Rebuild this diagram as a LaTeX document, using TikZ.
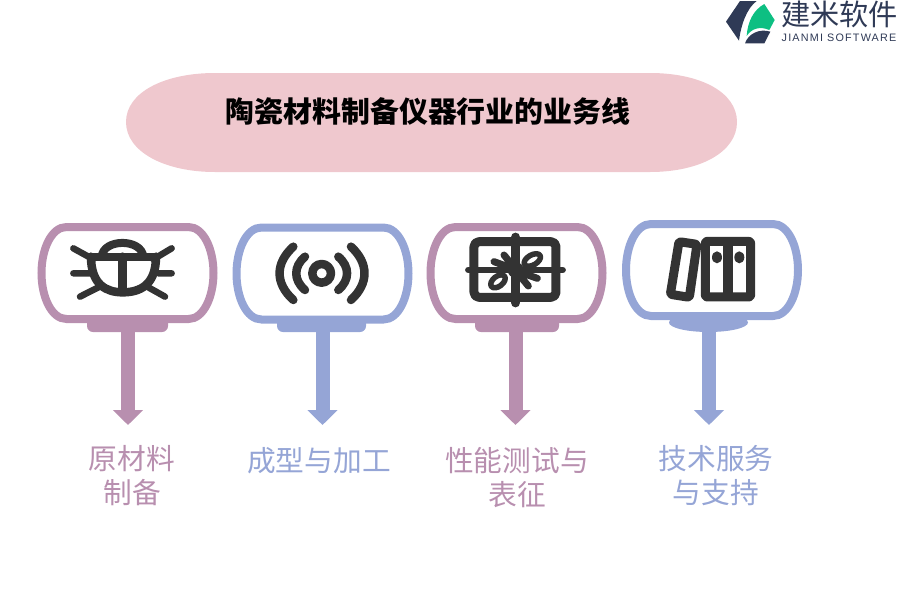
\documentclass[tikz,border=0pt]{standalone}
\usepackage{fontspec}
\usetikzlibrary{arrows.meta}
\setmainfont{Liberation Sans}
\newfontfamily\cjk{Noto Sans CJK SC}
\newfontfamily\logolatin[LetterSpace=11]{Liberation Sans}
\definecolor{mauve}{HTML}{B88FAF}
\definecolor{periw}{HTML}{95A5D6}
\definecolor{pinkbg}{HTML}{EFC8CE}
\definecolor{ink}{HTML}{333333}
\definecolor{navy}{HTML}{2F3A56}
\definecolor{mint}{HTML}{0DBF82}
\tikzset{
  lbl/.style={inner sep=0pt,align=center,font=\cjk\fontsize{28.7}{34}\selectfont},
  flowarrow/.style={line width=14pt,-{Triangle[length=15pt,width=29.5pt]}},
  icon/.style={draw=ink,line cap=round,line join=round},
  zoomed/.style={x=0.3333pt,y=-0.3333pt},
}
\newcommand{\capsule}[3]{%
  \path[shift={(#1,#2)},draw=#3,line width=8pt,fill=white]
    (25,0) -- (147,0) .. controls (162,0) and (172,22) .. (172,46)
    .. controls (172,70) and (162,92) .. (147,92) -- (25,92)
    .. controls (10,92) and (0,70) .. (0,46)
    .. controls (0,22) and (10,0) .. (25,0) -- cycle;}
\begin{document}
\begin{tikzpicture}[x=1pt,y=-1pt]
\useasboundingbox (0,0) rectangle (900,600);

% title
\path[fill=pinkbg] (215,73) -- (650,73) .. controls (700,73) and (737,92) .. (737,122)
  .. controls (737,152) and (700,172) .. (650,172) -- (215,172)
  .. controls (165,172) and (126,152) .. (126,122) .. controls (126,92) and (165,73) .. (215,73) -- cycle;
\node[inner sep=0pt,font=\cjk\bfseries\fontsize{28.9}{34}\selectfont] (title) at (428,111) {陶瓷材料制备仪器行业的业务线};

% tabs
\path[fill=mauve,rounded corners=6pt] (87,315) -- (168,315) -- (168,332) -- (87,332) -- cycle;
\path[fill=periw,rounded corners=6pt] (277,315) -- (366,315) -- (366,332) -- (277,332) -- cycle;
\path[fill=mauve,rounded corners=6pt] (475,315) -- (559,315) -- (559,332) -- (475,332) -- cycle;
\path[fill=periw] (708.5,322.5) ellipse [x radius=39.5,y radius=9.5];

% arrows
\coordinate (s1) at (128,330); \coordinate (e1) at (128,425);
\coordinate (s2) at (322.5,330); \coordinate (e2) at (322.5,425);
\coordinate (s3) at (515.5,330); \coordinate (e3) at (515.5,425);
\coordinate (s4) at (709,330); \coordinate (e4) at (709,425);
\draw[flowarrow,mauve] (s1) -- (e1);
\draw[flowarrow,periw] (s2) -- (e2);
\draw[flowarrow,mauve] (s3) -- (e3);
\draw[flowarrow,periw] (s4) -- (e4);

% capsules
\capsule{41.5}{227}{mauve}
\capsule{236.5}{227.5}{periw}
\capsule{430.5}{227}{mauve}
\capsule{626}{224}{periw}

% bug icon
\begin{scope}[shift={(30,210)},zoomed]
  \draw[icon,line width=8pt] (215,140) .. controls (220,85) and (335,85) .. (340,140);
  \draw[icon,line width=8pt] (190,140) -- (375,140);
  \draw[icon,line width=8.5pt] (183,140) .. controls (183,225) and (230,247) .. (278,247)
     .. controls (330,247) and (378,225) .. (378,140);
  \draw[icon,line width=8.5pt] (278,140) -- (278,245);
  \draw[icon,line width=6.5pt] (130,115) -- (190,148) (130,190) -- (185,190) (150,260) -- (205,232)
     (425,115) -- (370,148) (425,190) -- (385,190) (405,260) -- (355,232);
\end{scope}

% signal icon
\begin{scope}[shift={(225,210)},zoomed]
  \draw[icon,line width=8.5pt] (290,190) circle [radius=28];
  \draw[icon,line width=8.5pt] (240,140) .. controls (205,170) and (205,210) .. (240,240);
  \draw[icon,line width=8.5pt] (340,140) .. controls (375,170) and (375,210) .. (340,240);
  \draw[icon,line width=8.5pt] (205,110) .. controls (150,160) and (150,220) .. (205,270);
  \draw[icon,line width=8.5pt] (378,110) .. controls (432,160) and (432,220) .. (378,270);
\end{scope}

% gift icon
\begin{scope}[shift={(420,210)},zoomed]
  \draw[icon,line width=9pt,rounded corners=5pt] (162,95) rectangle (408,262);
  \draw[icon,line width=9.5pt] (287,82) -- (287,278);
  \draw[icon,line width=6.5pt] (145,180) -- (428,180);
  \draw[icon,line width=5.5pt,rotate around={30:(337,150)}] (337,150) ellipse [x radius=27,y radius=15];
  \draw[icon,line width=5.5pt,rotate around={38:(234,214)}] (234,214) ellipse [x radius=25,y radius=15];
  \draw[icon,line width=7pt] (222,155) -- (285,178) (252,135) -- (287,178)
     (352,205) -- (287,182) (325,228) -- (287,182);
  \fill[ink] (287,180) circle [radius=24];
\end{scope}

% folders icon
\begin{scope}[shift={(615,210)},zoomed]
  \draw[icon,line width=9pt,rounded corners=2pt] (192,95) -- (246,103) -- (223,262) -- (166,253) -- cycle;
  \draw[icon,line width=9pt,rounded corners=2pt] (271,94) rectangle (407,261);
  \draw[icon,line width=10pt,line cap=butt] (340,94) -- (340,261);
  \fill[ink] (306,142) ellipse [x radius=15,y radius=18];
  \fill[ink] (373,142) ellipse [x radius=15,y radius=18];
\end{scope}

% labels
\node[lbl,text=mauve] (l1) at (132,476) {原材料\\制备};
\node[lbl,text=periw] (l2) at (319,461) {成型与加工};
\node[lbl,text=mauve] (l3) at (517,478) {性能测试与\\表征};
\node[lbl,text=periw] (l4) at (716,476) {技术服务\\与支持};

% logo
\begin{scope}[shift={(715,0)},zoomed]
  \fill[navy] (75,3) -- (125,3) .. controls (95,25) and (78,75) .. (72,122) -- (33,65) -- cycle;
  \fill[mint] (95,108) .. controls (98,65) and (115,30) .. (148,12) -- (179,60) -- (163,90)
     .. controls (135,78) and (110,85) .. (95,108) -- cycle;
  \fill[navy] (90,130) .. controls (100,100) and (135,85) .. (166,95) -- (148,130) -- cycle;
\end{scope}
\node[inner sep=0pt,text=navy,font=\cjk\fontsize{29.2}{30}\selectfont] (brand) at (839.5,14) {建米软件};
\node[inner sep=0pt,text=navy,font=\logolatin\fontsize{10.8}{12}\selectfont] (brandlat) at (839,38) {JIANMI SOFTWARE};
\end{tikzpicture}
\end{document}
